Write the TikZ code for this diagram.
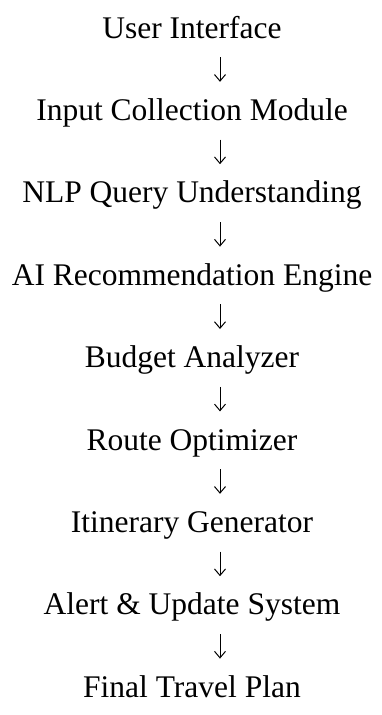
\documentclass[tikz,border=0pt]{standalone}
\usepackage{fontspec}
\setmainfont{Liberation Serif}
\usepackage{tikz}
\usetikzlibrary{arrows.meta}

\tikzset{
    stage/.style = {inner sep=0pt, anchor=base, text height=38.4pt, text depth=19pt,
                    font=\fontsize{31.5}{38}\selectfont},
    flow/.style  = {line width=1pt, -{Straight Barb[length=6.5pt, width=11pt, line width=1pt]}},
}

\begin{document}
\begin{tikzpicture}[x=1pt, y=-1pt]
        \useasboundingbox (0, 0) rectangle (381, 715);

        \coordinate (ax) at (220, 0);

        \node[stage] (ui)    at (192, 38.0)  {User Interface};
        \node[stage] (input) at (192, 120.4) {Input Collection Module};
        \node[stage] (nlp)   at (192, 202.8) {NLP Query Understanding};
        \node[stage] (ai)    at (192, 285.2) {AI Recommendation Engine};
        \node[stage] (budg)  at (192, 367.6) {Budget Analyzer};
        \node[stage] (route) at (192, 450.0) {Route Optimizer};
        \node[stage] (itin)  at (192, 532.4) {Itinerary Generator};
        \node[stage] (alert) at (192, 614.8) {Alert \& Update System};
        \node[stage] (plan)  at (192, 697.2) {Final Travel Plan};

        \draw[flow] (ui.south -| ax)    -- (input.north -| ax);
        \draw[flow] (input.south -| ax) -- (nlp.north -| ax);
        \draw[flow] (nlp.south -| ax)   -- (ai.north -| ax);
        \draw[flow] (ai.south -| ax)    -- (budg.north -| ax);
        \draw[flow] (budg.south -| ax)  -- (route.north -| ax);
        \draw[flow] (route.south -| ax) -- (itin.north -| ax);
        \draw[flow] (itin.south -| ax)  -- (alert.north -| ax);
        \draw[flow] (alert.south -| ax) -- (plan.north -| ax);
    \end{tikzpicture}
\end{document}
